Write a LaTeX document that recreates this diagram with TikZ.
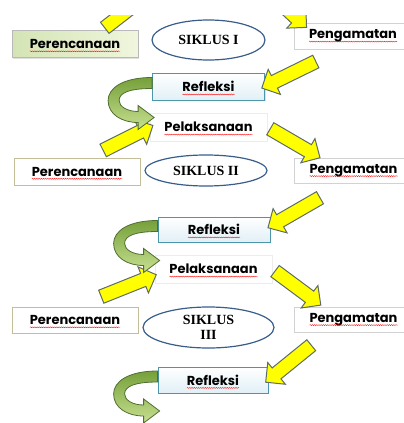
\documentclass[tikz,border=0pt]{standalone}
\usepackage{fontspec}
\setmainfont{Liberation Serif}
\newfontfamily\comic{Poppins}
\usetikzlibrary{positioning}
\usetikzlibrary{calc,shapes.geometric,shapes.arrows,shadows,decorations.pathmorphing}

\definecolor{yfill}{RGB}{255,255,0}
\definecolor{yline}{RGB}{95,108,100}
\definecolor{gline}{RGB}{80,110,50}
\definecolor{gdark}{RGB}{118,160,58}
\definecolor{glight}{RGB}{200,224,145}
\definecolor{planfill}{RGB}{212,228,180}
\definecolor{planfill2}{RGB}{240,246,222}
\definecolor{planline}{RGB}{196,189,151}
\definecolor{refline}{RGB}{75,150,170}
\definecolor{reffill}{RGB}{225,240,246}
\definecolor{ovalline}{RGB}{56,93,138}

% word width, kept for the red squiggle
\newlength\spellw
\newcommand\spell[1]{\sbox0{#1}\global\spellw=\wd0\usebox0}

\tikzset{
  box/.style={rectangle, inner sep=0pt, minimum height=27pt,
    font=\comic\bfseries\fontsize{13}{15}\selectfont,
    drop shadow={shadow xshift=1.2pt, shadow yshift=-1.2pt, opacity=0.25},
    append after command={($(\tikzlastnode.base)+(-0.5*\spellw,-2.8pt)$) edge[wavy]
      ($(\tikzlastnode.base)+(0.5*\spellw,-2.8pt)$)}},
  wavy/.style={draw=red, line width=0.35pt, decorate, decoration={snake, amplitude=0.5pt, segment length=2.2pt}},
  plan/.style={box, draw=planline, fill=white, minimum width=126pt},
  planfirst/.style={plan, draw=gray!55, left color=planfill, right color=planfill2},
  observe/.style={box, draw=gray!35, fill=white, minimum width=118pt},
  reflect/.style={box, draw=refline, line width=0.8pt, top color=white, bottom color=reffill, minimum width=112pt},
  act/.style={box, draw=gray!15, fill=white, minimum width=117pt, minimum height=28pt},
  siklus/.style={ellipse, draw=ovalline, line width=1.2pt, fill=white, inner sep=0pt,
    font=\bfseries\fontsize{14}{15}\selectfont, align=center},
  yblock/.style={single arrow, draw=yline, fill=yfill, line width=1pt, inner xsep=0pt, inner ysep=6.5pt,
    text height=0pt, text depth=0pt, single arrow head extend=7pt, single arrow tip angle=90},
  gturn/.style={draw=gline, line width=0.8pt, top color=gdark, bottom color=glight}
}

% yellow block arrow from #1 to #2
\newcommand\yarrow[2]{\path let \p1=($(#2)-(#1)$), \n1={atan2(\y1,\x1)}, \n2={veclen(\x1,\y1)} in
  node[yblock, minimum height=\n2, rotate=\n1] at ($(#1)!0.5!(#2)$) {};}
% green turn from the left side of #1
\newcommand\gturnat[1]{\path[gturn, shift={(#1.west)}] (0,-9) .. controls (-30,-9) and (-44,2) .. (-44,14)
  .. controls (-44,28) and (-30,36) .. (-14,36) -- (-14,43) -- (2,31) -- (-14,19) -- (-14,25)
  .. controls (-25,25) and (-33,20) .. (-33,14) .. controls (-33,6) and (-22,2) .. (0,2) -- cycle;}

\begin{document}
\begin{tikzpicture}[x=1pt, y=-1pt]
  \useasboundingbox (0,0) rectangle (404,423);
  \begin{scope}
    \clip (0,15) rectangle (404,423);
    % Define nodes
    \node[planfirst] (P1) at (75,44) {\spell{Perencanaan}};
    \node[siklus, minimum width=113pt, minimum height=40pt] (S1) at (208.5,40) {SIKLUS I};
    \node[observe, minimum height=26pt] (G1) at (353,36) {\spell{Pengamatan}};
    \node[reflect] (R1) at (208.5,86.5) {\spell{Refleksi}};
    \node[act] (L1) at (208.5,127) {\spell{Pelaksanaan}};

    \node[plan] (P2) at (77,171.5) {\spell{Perencanaan}};
    \node[siklus, minimum width=122pt, minimum height=31pt] (S2) at (206,170.5) {SIKLUS II};
    \node[observe, minimum height=25pt] (G2) at (353.5,170.5) {\spell{Pengamatan}};
    \node[reflect, minimum height=25pt] (R2) at (214,229.5) {\spell{Refleksi}};
    \node[act] (L2) at (213.5,269) {\spell{Pelaksanaan}};

    \node[plan, minimum height=26pt] (P3) at (75,320) {\spell{Perencanaan}};
    \node[siklus, minimum width=131pt, minimum height=41pt] (S3) at (208.5,327.5) {SIKLUS\\III};
    \node[observe, minimum height=25pt] (G3) at (353.5,319.5) {\spell{Pengamatan}};
    \node[reflect, minimum height=26pt, minimum width=110pt] (R3) at (213,380) {\spell{Refleksi}};

    % Arrow ends
    \coordinate (a0) at (102,30);  \coordinate (b0) at (146,-4);
    \coordinate (a1) at (262,-14); \coordinate (b1) at (304,25);
    \coordinate (a2) at (319,60);
    \coordinate (a3) at (100,152);
    \coordinate (b4) at (317,156);
    \coordinate (a5) at (323,196); \coordinate (b5) at (271,226);
    \coordinate (a6) at (98,298);  \coordinate (b6) at (153,276);
    \coordinate (b7) at (318,303);
    \coordinate (a8) at (314,343);

    % Connect nodes
    \yarrow{a0}{b0}
    \yarrow{a1}{b1}
    \yarrow{a2}{R1.east}
    \yarrow{a3}{L1.west}
    \yarrow{L1.east}{b4}
    \yarrow{a5}{b5}
    \yarrow{a6}{b6}
    \yarrow{L2.east}{b7}
    \yarrow{a8}{R3.east}
    \gturnat{R1}
    \gturnat{R2}
    \gturnat{R3}
  \end{scope}
\end{tikzpicture}
\end{document}
